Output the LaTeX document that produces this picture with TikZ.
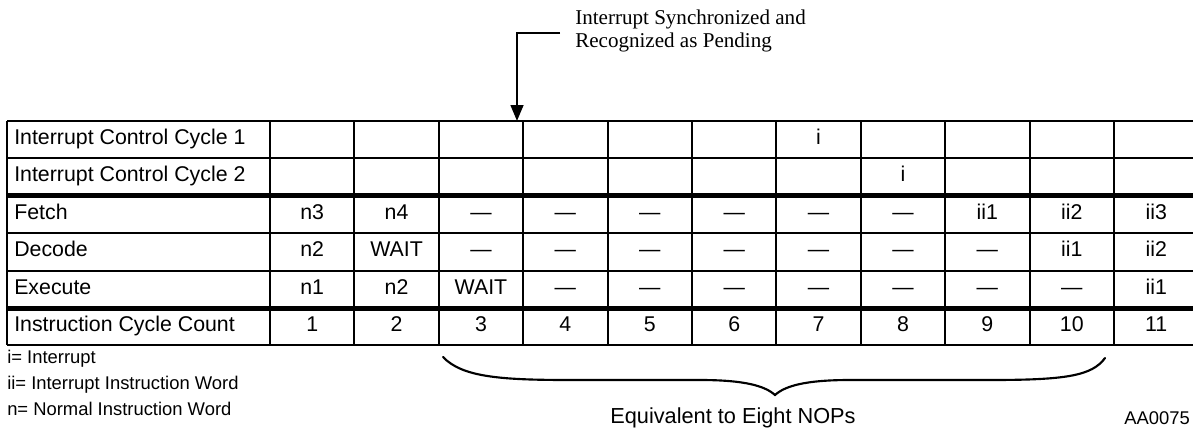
\documentclass[tikz,border=0pt]{standalone}
\usepackage{fontspec}
\setmainfont{Liberation Sans}
\newfontfamily\notefont{Liberation Serif}
\usetikzlibrary{arrows.meta}
\begin{document}
\begin{tikzpicture}[x=0.75pt,y=-0.75pt,
  gridline/.style={line width=1.5pt},
  sepline/.style={line width=3.75pt},
  cell/.style={font=\fontsize{16}{19}\selectfont, anchor=base, inner sep=0pt},
  lab/.style={cell, anchor=base west},
  legend/.style={font=\fontsize{13.8}{16}\selectfont, anchor=base west, inner sep=0pt},
  callout/.style={line width=1.9pt, -{Triangle[length=12pt,width=9.5pt]}},
  bracepath/.style={line width=1.6pt, line cap=round}
  ]
\useasboundingbox (0,0) rectangle (1193,429);

% grid
\foreach \y in {121,158.4,233.2,270.6,345.4}
  \draw[gridline] (7,\y) -- (1198.4,\y);
\foreach \y in {195.8,308}
  \draw[sepline] (7,\y) -- (1198.4,\y);
\foreach \x in {7,270,354.4,438.8,523.2,607.6,692,776.4,860.8,945.2,1029.6,1114,1198.4}
  \draw[gridline] (\x,121) -- (\x,345.4);

% row labels
\node[lab] (r1) at (14,144.5) {Interrupt Control Cycle 1};
\node[lab] (r2) at (14,181.9) {Interrupt Control Cycle 2};
\node[lab] (r3) at (14,219.3) {Fetch};
\node[lab] (r4) at (14,256.7) {Decode};
\node[lab] (r5) at (14,294.1) {Execute};
\node[lab] (r6) at (14,331.5) {Instruction Cycle Count};

% cells
\node[cell] (c1-7) at ({270+84.4*6.5},144.5) {i};
\node[cell] (c2-8) at ({270+84.4*7.5},181.9) {i};
\foreach \t [count=\i] in {n3,n4,\textemdash,\textemdash,\textemdash,\textemdash,\textemdash,\textemdash,ii1,ii2,ii3}
  \node[cell] (c3-\i) at ({270+84.4*(\i-0.5)},219.3) {\t};
\foreach \t [count=\i] in {n2,WAIT,\textemdash,\textemdash,\textemdash,\textemdash,\textemdash,\textemdash,\textemdash,ii1,ii2}
  \node[cell] (c4-\i) at ({270+84.4*(\i-0.5)},256.7) {\t};
\foreach \t [count=\i] in {n1,n2,WAIT,\textemdash,\textemdash,\textemdash,\textemdash,\textemdash,\textemdash,\textemdash,ii1}
  \node[cell] (c5-\i) at ({270+84.4*(\i-0.5)},294.1) {\t};
\foreach \i in {1,...,11}
  \node[cell] (c6-\i) at ({270+84.4*(\i-0.5)},331.5) {\i};

% callout
\node[font=\notefont\fontsize{15.8}{17.3}\selectfont, align=left, anchor=north west, inner sep=0pt] (note) at (575,10) {Interrupt Synchronized and\\Recognized as Pending};
\coordinate (astart) at (560,33);
\coordinate (atip) at (517,121);
\draw[callout] (astart) -| (atip);

% brace
\coordinate (bl) at (443,357);
\coordinate (bt) at (775,395);
\coordinate (br) at (1105,358);
\draw[bracepath] (bl) .. controls (462,377) and (500,380) .. (570,380)
  -- (700,380) .. controls (745,380) and (765,386) .. (bt)
  .. controls (785,386) and (805,380) .. (850,380)
  -- (990,380) .. controls (1065,380) and (1092,376) .. (br);
\node[font=\fontsize{16.3}{19}\selectfont, anchor=base, inner sep=0pt] (equiv) at (733,423.5) {Equivalent to Eight NOPs};

% legend
\node[legend] (l1) at (7,363) {i= Interrupt};
\node[legend] (l2) at (7,389) {ii= Interrupt Instruction Word};
\node[legend] (l3) at (7,415) {n= Normal Instruction Word};
\node[legend] (fig) at (1124,424.5) {AA0075};
\end{tikzpicture}
\end{document}
